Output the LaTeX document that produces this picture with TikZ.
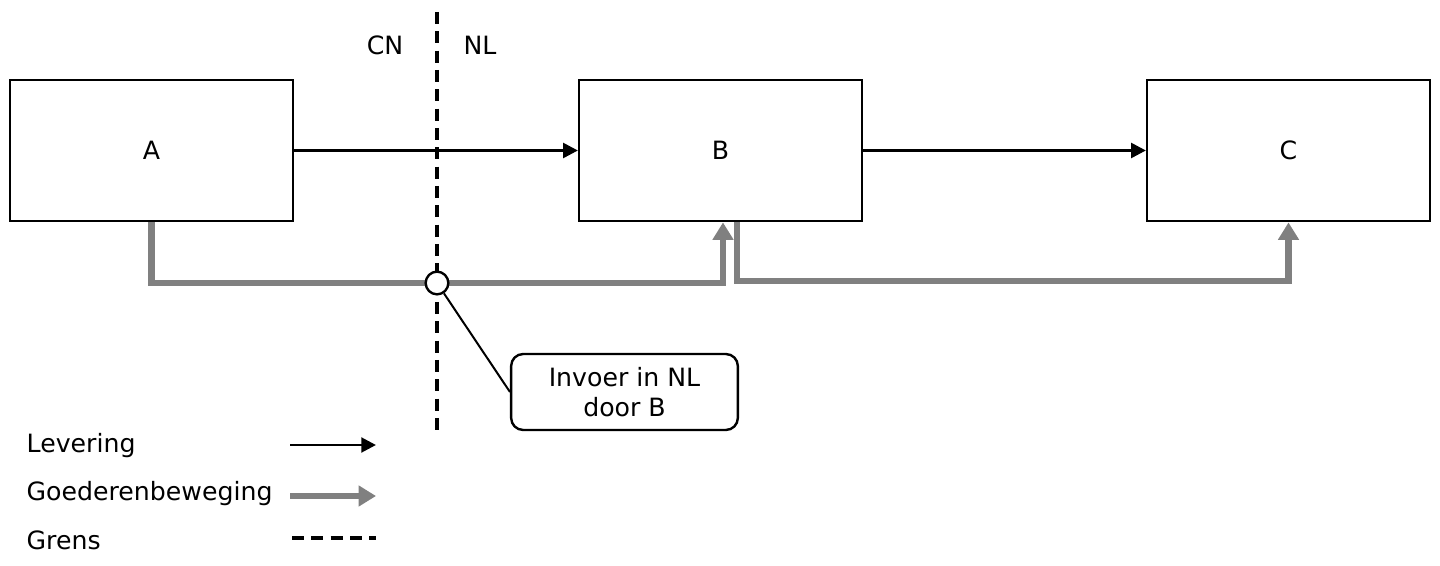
\documentclass[tikz,border=0pt]{standalone}
\usepackage{fontspec}
\setmainfont{DejaVu Sans}
\usetikzlibrary{arrows.meta,calc,positioning}

\begin{document}
\begin{tikzpicture}[x=0.75pt,y=-0.75pt,
  font=\fontsize{18.9}{23}\selectfont,
  box/.style={draw, line width=1.9pt, minimum width=212pt, minimum height=106pt},
  lev/.style={line width=2.2pt, -{Triangle[length=11pt,width=11pt]}},
  goods/.style={draw=black!50, line width=5pt, -{Triangle[length=13pt,width=15pt]}},
  grens/.style={line width=2.6pt, dash pattern=on 9pt off 5.5pt}]
\useasboundingbox (0,0) rectangle (1440,566);
\node[box] (A) at (151.5,150.5) {A};
\node[box] (B) at (720.5,150.5) {B};
\node[box] (C) at (1288.5,150.5) {C};
\coordinate (gtop) at (437,12);
\coordinate (gbot) at (437,437);
\draw[grens] (gtop) -- (gbot);
\node (CN) at (385,45) {CN};
\node (NL) at (480,45) {NL};
\draw[lev] (A) -- (B);
\draw[lev] (B) -- (C);
\draw[goods] (A.south) |- (437,283) -| ($(B.south)+(2.5,0)$);
\draw[goods] ($(B.south)+(16.5,0)$) |- (1288.5,281) -- (C.south);
\node[draw, circle, fill=white, line width=1.8pt, minimum size=17pt, inner sep=0pt] (imp) at (437,283) {};
\node[draw, rounded corners=9pt, line width=1.8pt, minimum width=170pt, minimum height=57pt, align=center] (note) at (624.5,392) {Invoer in NL\\door B};
\draw[line width=1.5pt] (imp) -- (note.west);
% legenda
\node[anchor=west] (l1) at (22,446) {Levering};
\node[anchor=west] (l2) at (22,494) {Goederenbeweging};
\node[anchor=west] (l3) at (22,540) {Grens};
\coordinate (s1) at (290,445); \coordinate (e1) at (376,445);
\coordinate (s2) at (290,496); \coordinate (e2) at (376,496);
\coordinate (s3) at (292,538); \coordinate (e3) at (376,538);
\draw[lev] (s1) -- (e1);
\draw[goods] (s2) -- (e2);
\draw[grens] (s3) -- (e3);
\end{tikzpicture}
\end{document}
